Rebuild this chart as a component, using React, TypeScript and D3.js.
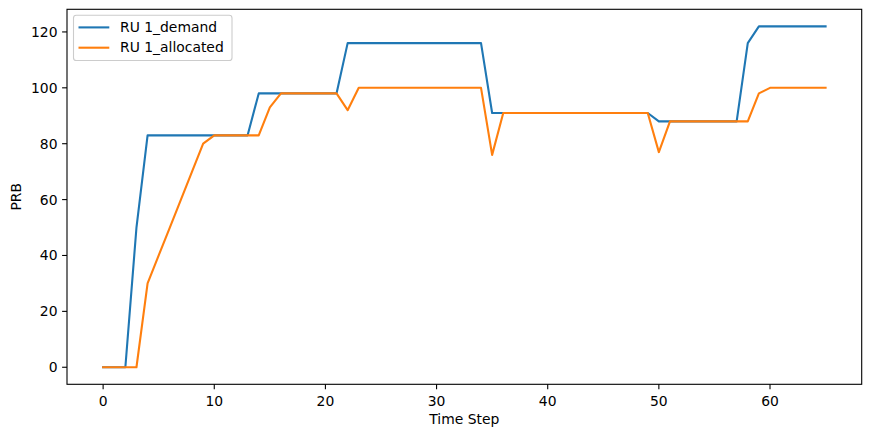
import React from "react";
import * as d3 from "d3";

const timeSteps: number[] = Array.from({ length: 66 }, (_, i) => i);
const demand: number[] = [
  0, 0, 0, 50, 83, 83, 83, 83, 83, 83, 83, 83, 83, 83, 98, 98, 98, 98, 98, 98,
  98, 98, 116, 116, 116, 116, 116, 116, 116, 116, 116, 116, 116, 116, 116, 91,
  91, 91, 91, 91, 91, 91, 91, 91, 91, 91, 91, 91, 91, 91, 88, 88, 88, 88, 88,
  88, 88, 88, 116, 122, 122, 122, 122, 122, 122, 122,
];
const allocated: number[] = [
  0, 0, 0, 0, 30, 40, 50, 60, 70, 80, 83, 83, 83, 83, 83, 93, 98, 98, 98, 98,
  98, 98, 92, 100, 100, 100, 100, 100, 100, 100, 100, 100, 100, 100, 100, 76,
  91, 91, 91, 91, 91, 91, 91, 91, 91, 91, 91, 91, 91, 91, 77, 88, 88, 88, 88,
  88, 88, 88, 88, 98, 100, 100, 100, 100, 100, 100,
];
const xTicks: number[] = [0, 10, 20, 30, 40, 50, 60];
const yTicks: number[] = [0, 20, 40, 60, 80, 100, 120];
const seriesNames: string[] = ["RU 1_demand", "RU 1_allocated"];
const colors: string[] = ["#1f77b4", "#ff7f0e"];

const W = 872;
const H = 436;
const L = 67;
const R = 861.7;
const T = 9.3;
const B = 384.3;
const FONT = "'DejaVu Sans', sans-serif";
const FS = 13.9;

export default function App() {
  const x = d3.scaleLinear().domain([-3.25, 68.25]).range([L, R]);
  const y = d3.scaleLinear().domain([-6.1, 128.1]).range([B, T]);
  const line = d3
    .line<number>()
    .x((_, i) => x(timeSteps[i]))
    .y((d) => y(d));
  const series = [demand, allocated];

  return (
    <div style={{ position: "absolute", left: 0, top: 0 }}>
      <svg width={W} height={H} style={{ display: "block", background: "#fff" }}>
        <rect x={0} y={0} width={W} height={H} fill="#fff" />
        {series.map((s, i) => (
          <path
            key={i}
            d={line(s) || ""}
            fill="none"
            stroke={colors[i]}
            strokeWidth={2.1}
            strokeLinejoin="round"
            strokeLinecap="square"
          />
        ))}
        <rect
          x={L}
          y={T}
          width={R - L}
          height={B - T}
          fill="none"
          stroke="#000"
          strokeWidth={1.1}
        />
        {xTicks.map((t) => (
          <g key={"x" + t}>
            <line x1={x(t)} x2={x(t)} y1={B} y2={B + 4.9} stroke="#000" strokeWidth={1.1} />
            <text
              x={x(t)}
              y={405.8}
              textAnchor="middle"
              fontFamily={FONT}
              fontSize={FS}
              fill="#000"
            >
              {t}
            </text>
          </g>
        ))}
        {yTicks.map((t) => (
          <g key={"y" + t}>
            <line x1={L - 4.9} x2={L} y1={y(t)} y2={y(t)} stroke="#000" strokeWidth={1.1} />
            <text
              x={57.5}
              y={y(t)}
              dy="0.36em"
              textAnchor="end"
              fontFamily={FONT}
              fontSize={FS}
              fill="#000"
            >
              {t}
            </text>
          </g>
        ))}
        <text
          x={(L + R) / 2}
          y={423.5}
          textAnchor="middle"
          fontFamily={FONT}
          fontSize={FS}
          fill="#000"
        >
          Time Step
        </text>
        <text
          transform={`translate(21,${(T + B) / 2}) rotate(-90)`}
          textAnchor="middle"
          fontFamily={FONT}
          fontSize={FS}
          fill="#000"
        >
          PRB
        </text>
        <rect
          x={73.5}
          y={15.2}
          width={158.5}
          height={45.3}
          rx={2.8}
          ry={2.8}
          fill="#fff"
          fillOpacity={0.8}
          stroke="#cccccc"
          strokeWidth={1.1}
        />
        {seriesNames.map((n, i) => (
          <g key={n}>
            <line
              x1={78.5}
              x2={109.3}
              y1={27.4 + i * 20.3}
              y2={27.4 + i * 20.3}
              stroke={colors[i]}
              strokeWidth={2.1}
            />
            <text
              x={120}
              y={31.9 + i * 20.3}
              fontFamily={FONT}
              fontSize={FS}
              fill="#000"
            >
              {n}
            </text>
          </g>
        ))}
      </svg>
    </div>
  );
}
